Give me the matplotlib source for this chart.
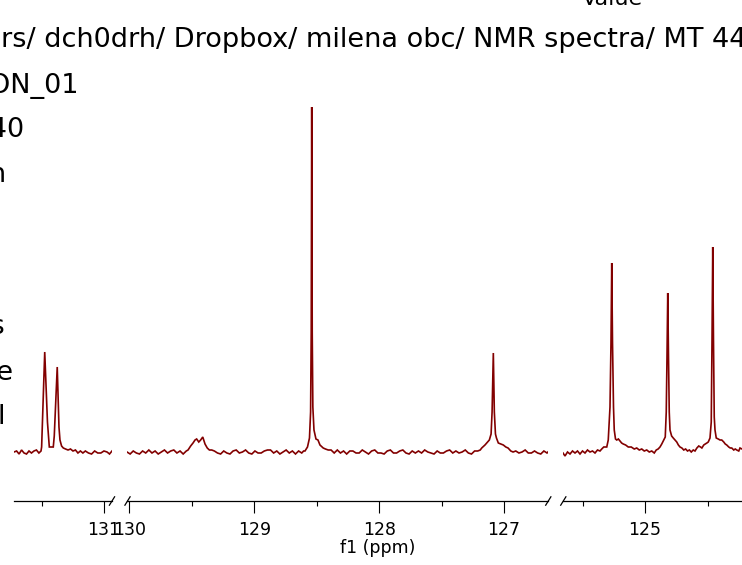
import matplotlib
matplotlib.use("Agg")
import matplotlib.pyplot as plt
from matplotlib.lines import Line2D
from matplotlib.font_manager import FontProperties
from matplotlib.textpath import TextToPath

# ---------------------------------------------------------------------------
# 13C spectrum, three ppm windows (intensity in arbitrary units)
# ---------------------------------------------------------------------------
s1_ppm = [131.726, 131.705, 131.685, 131.665, 131.645, 131.625, 131.605, 131.585, 131.565, 131.545, 131.525,
          131.508, 131.503, 131.478, 131.456, 131.441, 131.424, 131.409, 131.401, 131.377, 131.363, 131.355,
          131.342, 131.328,
          131.310, 131.290, 131.270, 131.250, 131.230, 131.210, 131.190, 131.170, 131.150, 131.125, 131.100,
          131.075, 131.050, 131.025, 131.000, 130.975, 130.955, 130.935]
s1_int = [0, 1, -2, 2, -1, -2, 1, -1, 1, 2, -1,
          1, 5, 100, 30, 5, 5, 5, 16, 85, 25, 12, 6, 4,
          3, 2, 3, 1, 2, -1, 1, -1, 1, -1, -2, 1, -1, -1, 1, 0, -2, 1]

s2_ppm = [130.020, 129.995, 129.970, 129.945, 129.920, 129.895, 129.870, 129.845, 129.820, 129.795,
          129.770, 129.745, 129.720, 129.695, 129.670, 129.645, 129.620, 129.595, 129.570, 129.545,
          # broad hump near 129.4
          129.531, 129.510, 129.491, 129.475, 129.462, 129.445, 129.430, 129.413, 129.405, 129.395,
          129.377, 129.360, 129.341,
          129.320, 129.295, 129.270, 129.245, 129.220, 129.195, 129.170, 129.145, 129.120, 129.095,
          129.070, 129.045, 129.020, 128.995, 128.970, 128.945, 128.920, 128.895, 128.870, 128.845,
          128.820, 128.795, 128.770, 128.745, 128.720, 128.695, 128.670, 128.645, 128.620, 128.605,
          # 128.54 line
          128.594, 128.574, 128.558, 128.549, 128.544, 128.540, 128.536, 128.531, 128.522, 128.506,
          128.490, 128.474, 128.448, 128.430, 128.408,
          128.385, 128.360, 128.335, 128.310, 128.285, 128.260, 128.235, 128.210, 128.185, 128.160,
          128.135, 128.110, 128.085, 128.060, 128.035, 128.010, 127.985, 127.960, 127.935, 127.910,
          127.885, 127.860, 127.835, 127.810, 127.785, 127.760, 127.735, 127.710, 127.685, 127.660,
          127.635, 127.610, 127.585, 127.560, 127.535, 127.510, 127.485, 127.460, 127.435, 127.410,
          127.385, 127.360, 127.335, 127.310, 127.285, 127.260, 127.235, 127.210,
          # 127.09 line
          127.190, 127.178, 127.152, 127.117, 127.103, 127.095, 127.085, 127.077, 127.068, 127.060,
          127.045, 127.025, 127.005, 126.985, 126.967, 126.945, 126.927,
          126.905, 126.880, 126.855, 126.830, 126.805, 126.780, 126.755, 126.730, 126.705, 126.680,
          126.655, 126.640]
s2_int = [0, -2, 1, -1, -2, 1, -1, 2, -1, 1, -2, 0, 2, -1, 1, 2, -1, 1, -2, 1,
          2, 6, 9, 12, 13, 10, 12, 15, 12, 8, 4, 2, 2,
          1, -1, -2, 1, -1, -2, 1, 2, -1, 0, 2, -1, -2, 1, -1, -1, 1, 2, 2, -1,
          1, -2, 0, 2, -1, 1, -2, 1, -1, 1,
          1, 5, 14, 40, 120, 345, 120, 45, 22, 13, 12, 7, 4, 3, 2,
          2, -1, 2, -1, 1, -2, 1, 1, -1, -1, 2, 0, -2, 1, 2, -1, -1, -2, 1, 2,
          -1, -1, 1, 2, -1, -2, 1, -1, 1, -1, 2, 0, -1, -2, 1, -1, -1, 1, 2, -1,
          1, -1, 0, 2, -1, -2, 1, 1,
          2, 4, 7, 12, 18, 40, 99, 40, 18, 14, 9, 8, 7, 5, 4, 1, 0,
          1, -1, 0, 2, -1, -1, 1, -1, -2, 1, -1, 1]

s3_ppm = [125.656, 125.640, 125.620, 125.600, 125.580, 125.560, 125.540, 125.520, 125.500, 125.480,
          125.460, 125.440, 125.420, 125.400, 125.380, 125.360,
          # 125.27 line
          125.346, 125.330, 125.306, 125.294, 125.280, 125.272, 125.266, 125.260, 125.252, 125.246,
          125.236, 125.226, 125.213, 125.200, 125.187, 125.174, 125.155, 125.134, 125.110, 125.086,
          125.066, 125.046, 125.026, 125.006, 124.986, 124.966, 124.946, 124.926,
          # 124.82 line
          124.910, 124.895, 124.880, 124.866, 124.854, 124.838, 124.830, 124.824, 124.818, 124.812,
          124.806, 124.800, 124.787, 124.774, 124.760, 124.746, 124.733, 124.720, 124.705, 124.690,
          124.675, 124.660, 124.645, 124.630, 124.614, 124.600, 124.585, 124.570, 124.556, 124.545,
          124.530, 124.518, 124.505, 124.494, 124.480,
          # 124.46 line
          124.470, 124.464, 124.458, 124.452, 124.446, 124.440, 124.430, 124.414, 124.400, 124.386,
          124.370, 124.358, 124.346, 124.330, 124.318, 124.306, 124.290, 124.278, 124.266, 124.250,
          124.240, 124.224]
s3_int = [-1, -4, 0, -2, 1, -1, 1, -2, 1, -1, 2, 0, 1, -1, 2, 1,
          3, 5, 5, 12, 45, 110, 189, 110, 45, 22, 13, 12, 13, 11, 9, 8, 7, 5, 5, 3,
          4, 2, 3, 1, 2, 0, 1, -1,
          2, 3, 5, 8, 11, 15, 40, 95, 159, 95, 40, 22, 16, 14, 12, 10, 7, 5, 4, 2,
          3, 1, 2, 0, 2, 1, 4, 6, 5, 4, 7, 8, 9, 10, 14,
          30, 110, 205, 110, 35, 22, 14, 13, 12, 12, 10, 8, 7, 5, 4, 4, 2, 3, 2, 1, 4, 3]

# visible window of each axis piece (ppm, left -> right)
s1_window = (131.726, 130.935)
s2_window = (130.02, 126.647)
s3_window = (125.656, 124.224)

s1_major = [131]
s1_minor = [131.5]
s2_major = [130, 129, 128, 127]
s2_minor = [129.5, 128.5, 127.5]
s3_major = [125]
s3_minor = [125.5, 124.5]

# parameter table text
path_text = "/Users/ dch0drh/ Dropbox/ milena obc/ NMR spectra/ MT 440/ 13C/ fid"
path_hidden = "/Use"
table_right = ["MT 440 CARBON_01", "MT 440", "Origin", "Number of Scans", "Pulse Sequence", "Channel"]
header_text = "Value"
x_label = "f1 (ppm)"

# ---------------------------------------------------------------------------
W, H, DPI = 742, 565, 100
LINE = "#820000"
FONT = "DejaVu Sans"
TABLE_SIZE = 19.5

fig = plt.figure(figsize=(W / DPI, H / DPI), dpi=DPI)


def fx(x):
    return x / W


def fy(y):
    return 1 - y / H


axis_y = 501      # spine row (pixels from top)
top_y = 100       # top of plotting area
zero_y = 452      # row of zero intensity
y_lo = -(axis_y - zero_y)
y_hi = zero_y - top_y

pieces = [
    (14, 112, s1_window, s1_ppm, s1_int, s1_major, s1_minor),
    (127, 548, s2_window, s2_ppm, s2_int, s2_major, s2_minor),
    (563, 742, s3_window, s3_ppm, s3_int, s3_major, s3_minor),
]

for left, right, win, ppm, inten, major, minor in pieces:
    ax = fig.add_axes([fx(left), fy(axis_y), fx(right - left), (axis_y - top_y) / H])
    ax.patch.set_visible(False)
    ax.plot(ppm, inten, color=LINE, lw=1.2, solid_joinstyle="miter")
    ax.set_xlim(*win)
    ax.set_ylim(y_lo, y_hi)
    for side in ("left", "right", "top"):
        ax.spines[side].set_visible(False)
    ax.spines["bottom"].set_linewidth(0.9)
    ax.set_yticks([])
    ax.set_xticks(major, labels=[f"{m:d}" for m in major])
    ax.set_xticks(minor, minor=True)
    ax.tick_params(axis="x", which="major", direction="out", length=8.3, width=0.8,
                   labelsize=12.5, pad=6)
    ax.tick_params(axis="x", which="minor", direction="out", length=3.6, width=0.8)
    for lab in ax.get_xticklabels():
        lab.set_fontfamily(FONT)

# axis-break slashes at the ends of each piece
for cx in (112, 127.5, 548.3, 563.3):
    fig.add_artist(Line2D([fx(cx - 2.6), fx(cx + 2.6)], [fy(axis_y + 4.2), fy(axis_y - 4.2)],
                          transform=fig.transFigure, color="black", lw=0.9))

fig.text(fx(378), fy(553), x_label, ha="center", va="baseline", fontsize=12.5, family=FONT)

# parameter table (its left part runs past the figure edge)
prop = FontProperties(family=FONT, size=TABLE_SIZE)
ttp = TextToPath()
w_full = ttp.get_text_width_height_descent(path_text, prop, ismath=False)[0]
w_tail = ttp.get_text_width_height_descent(path_text[len(path_hidden):], prop, ismath=False)[0]
shift_px = (w_full - w_tail) * DPI / 72.0
fig.text(fx(0.3 - shift_px), fy(47), path_text, ha="left", va="baseline",
         fontsize=TABLE_SIZE, family=FONT)

right_edges = [79, 24, 6.5, 5, 13.5, 5.8]
baselines = [93, 137, 182, 334, 380, 424]
for txt, xr, yb in zip(table_right, right_edges, baselines):
    fig.text(fx(xr), fy(yb), txt, ha="right", va="baseline", fontsize=TABLE_SIZE, family=FONT)

fig.text(fx(612), fy(5), header_text, ha="center", va="baseline", fontsize=16, family=FONT)

fig.savefig("out.png", dpi=DPI)
